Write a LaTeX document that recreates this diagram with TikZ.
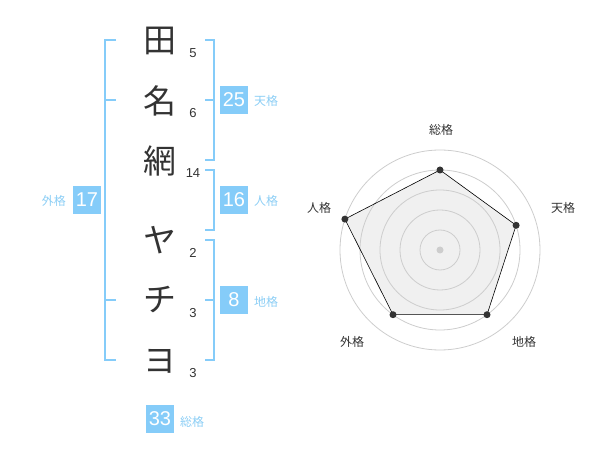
\documentclass[tikz,border=0pt]{standalone}
\usepackage{fontspec}
\setmainfont{Liberation Sans}
\newfontfamily\jp{Noto Sans CJK JP}
\definecolor{bl}{RGB}{133,204,249}
\definecolor{lbl}{RGB}{140,206,245}
\definecolor{ink}{RGB}{51,51,51}
\definecolor{ring}{RGB}{205,205,205}
\definecolor{area}{RGB}{240,240,240}
\begin{document}
\begin{tikzpicture}[x=1pt,y=-1pt,
  kanji/.style={inner sep=0pt,text=ink,font=\jp\fontsize{33}{33}\selectfont},
  num/.style={inner sep=0pt,text=ink,font=\fontsize{13}{13}\selectfont},
  br/.style={draw=bl,line width=1.6pt},
  fbox/.style={fill=bl,text=white,minimum width=28pt,minimum height=28pt,inner sep=0pt,font=\fontsize{20}{20}\selectfont},
  flab/.style={inner sep=0pt,text=lbl,font=\jp\fontsize{12}{12}\selectfont},
  rlab/.style={inner sep=0pt,text=ink,font=\jp\fontsize{12}{12}\selectfont},
  rdot/.style={circle,fill=ink,inner sep=0pt,minimum size=7pt}]
\useasboundingbox (0,0) rectangle (600,470);
% name characters
\node[kanji] (k1) at (160,41) {田};
\node[kanji] (k2) at (160,101) {名};
\node[kanji] (k3) at (160,161) {網};
\node[kanji] (k4) at (160,240) {ヤ};
\node[kanji] (k5) at (160,300) {チ};
\node[kanji] (k6) at (160,361) {ヨ};
% stroke counts
\node[num] (n1) at (193,53) {5};
\node[num] (n2) at (193,113) {6};
\node[num] (n3) at (193,173) {14};
\node[num] (n4) at (193,253) {2};
\node[num] (n5) at (193,313) {3};
\node[num] (n6) at (193,373) {3};
% brackets
\coordinate (lt) at (116,40); \coordinate (lta) at (105,40);
\coordinate (lba) at (105,360); \coordinate (lb) at (116,360);
\draw[br] (lt) -- (lta) -- (lba) -- (lb);
\draw[br] (105,100) -- (116,100);
\draw[br] (105,300) -- (116,300);
\draw[br] (205,40) -- (214,40) -- (214,160) -- (205,160);
\draw[br] (205,100) -- (214,100);
\draw[br] (205,170) -- (214,170) -- (214,230) -- (205,230);
\draw[br] (205,240) -- (214,240) -- (214,360) -- (205,360);
\draw[br] (205,300) -- (214,300);
% boxes
\node[fbox] (b25) at (234,100) {25};
\node[flab,anchor=west] (l25) at (254,101) {天格};
\node[fbox] (b16) at (234,200) {16};
\node[flab,anchor=west] (l16) at (254,201) {人格};
\node[fbox] (b8) at (234,300) {8};
\node[flab,anchor=west] (l8) at (254,302) {地格};
\node[fbox] (b17) at (87,200) {17};
\node[flab,anchor=east] (l17) at (66,201) {外格};
\node[fbox] (b33) at (160,419) {33};
\node[flab,anchor=west] (l33) at (180,422) {総格};
% radar
\coordinate (c) at (440,250);
\coordinate (p1) at (440,170);
\coordinate (p2) at (516.1,225.3);
\coordinate (p3) at (487.0,314.7);
\coordinate (p4) at (393.0,314.7);
\coordinate (p5) at (344.9,219.1);
\fill[area] (p1) -- (p2) -- (p3) -- (p4) -- (p5) -- cycle;
\foreach \r in {20,40,60,80,100} \draw[ring,line width=0.8pt] (c) circle[radius=\r];
\fill[ring] (c) circle[radius=3.5];
\draw[black,line width=0.6pt,line join=round] (p1) -- (p2) -- (p3) -- (p4) -- (p5) -- cycle;
\foreach \p in {p1,p2,p3,p4,p5} \node[rdot] at (\p) {};
\node[rlab] (r1) at (441,130) {総格};
\node[rlab] (r2) at (563,208) {天格};
\node[rlab] (r3) at (524,342) {地格};
\node[rlab] (r4) at (352,342) {外格};
\node[rlab] (r5) at (319,208) {人格};
\end{tikzpicture}
\end{document}
